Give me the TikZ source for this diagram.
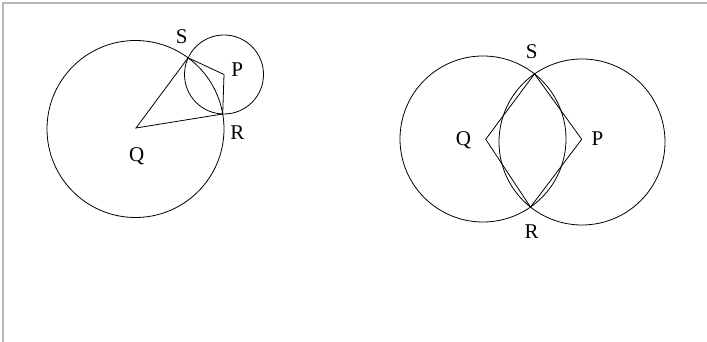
\documentclass[tikz,border=0pt]{standalone}
\usepackage{fontspec}
\setmainfont{Liberation Serif}
\begin{document}
\begin{tikzpicture}[x=1pt,y=1pt,
  geo/.style={draw=black,line width=0.8pt},
  lbl/.style={font=\fontsize{21}{21}\selectfont,inner sep=0pt}]
\useasboundingbox (0,0) rectangle (707,342);
\fill[white] (0,0) rectangle (707,342);
% frame
\draw[gray!55,line width=1.2pt] (3,0) -- (3,339) -- (707,339);
% ---- left figure ----
\coordinate (Q1) at (136,214);
\coordinate (P1) at (224,267.5);
\coordinate (S1) at (188.1,284.2);
\coordinate (R1) at (222.7,228);
\draw[geo] (135.5,213) circle[radius=88.5];
\draw[geo] (P1) circle[radius=39.5];
\draw[geo] (Q1) -- (S1) -- (P1) -- (R1) -- cycle;
\node[lbl] (lS1) at (181.7,305.3) {S};
\node[lbl] (lP1) at (237.2,272) {P};
\node[lbl] (lR1) at (237.5,209) {R};
\node[lbl] (lQ1) at (136.7,186) {Q};
% ---- right figure ----
\coordinate (Q2) at (485.7,202.7);
\coordinate (P2) at (581.7,202.7);
\coordinate (S2) at (534.5,268.1);
\coordinate (R2) at (530.5,134.9);
\draw[geo] (483,203) circle[radius=83];
\draw[geo] (582,200) circle[radius=83];
\draw[geo] (Q2) -- (S2) -- (P2) -- (R2) -- cycle;
\node[lbl] (lS2) at (531.7,290.3) {S};
\node[lbl] (lQ2) at (463.5,201.5) {Q};
\node[lbl] (lP2) at (597.5,203) {P};
\node[lbl] (lR2) at (531.7,110.3) {R};
\end{tikzpicture}
\end{document}
